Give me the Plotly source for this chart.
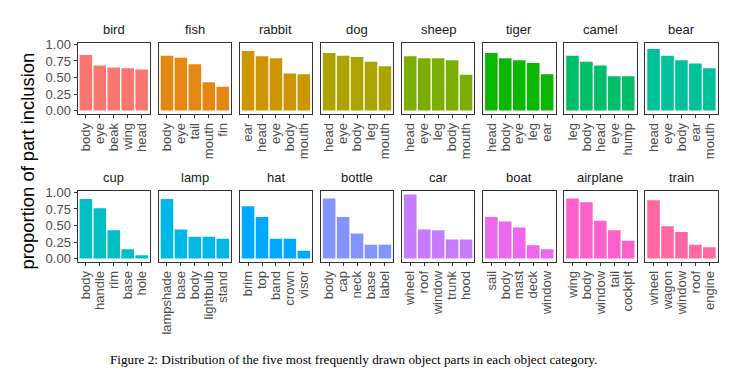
import plotly.graph_objects as go

categories = ["bird", "fish", "rabbit", "dog", "sheep", "tiger", "camel", "bear",
              "cup", "lamp", "hat", "bottle", "car", "boat", "airplane", "train"]

parts = {
    "bird": ["body", "eye", "beak", "wing", "head"],
    "fish": ["body", "eye", "tail", "mouth", "fin"],
    "rabbit": ["ear", "head", "eye", "body", "mouth"],
    "dog": ["head", "eye", "body", "leg", "mouth"],
    "sheep": ["head", "eye", "leg", "body", "mouth"],
    "tiger": ["head", "body", "eye", "leg", "ear"],
    "camel": ["leg", "body", "head", "eye", "hump"],
    "bear": ["head", "eye", "body", "ear", "mouth"],
    "cup": ["body", "handle", "rim", "base", "hole"],
    "lamp": ["lampshade", "base", "body", "lightbulb", "stand"],
    "hat": ["brim", "top", "band", "crown", "visor"],
    "bottle": ["body", "cap", "neck", "base", "label"],
    "car": ["wheel", "roof", "window", "trunk", "hood"],
    "boat": ["sail", "body", "mast", "deck", "window"],
    "airplane": ["wing", "body", "window", "tail", "cockpit"],
    "train": ["wheel", "wagon", "window", "roof", "engine"],
}

values = {
    "bird": [0.84, 0.68, 0.65, 0.64, 0.62],
    "fish": [0.83, 0.80, 0.70, 0.43, 0.36],
    "rabbit": [0.90, 0.82, 0.79, 0.56, 0.55],
    "dog": [0.87, 0.83, 0.81, 0.74, 0.67],
    "sheep": [0.82, 0.79, 0.79, 0.76, 0.54],
    "tiger": [0.87, 0.79, 0.76, 0.72, 0.55],
    "camel": [0.83, 0.74, 0.68, 0.52, 0.52],
    "bear": [0.93, 0.83, 0.76, 0.71, 0.64],
    "cup": [0.90, 0.76, 0.43, 0.14, 0.05],
    "lamp": [0.90, 0.44, 0.33, 0.33, 0.30],
    "hat": [0.79, 0.63, 0.30, 0.30, 0.12],
    "bottle": [0.91, 0.63, 0.38, 0.21, 0.21],
    "car": [0.97, 0.44, 0.43, 0.29, 0.29],
    "boat": [0.63, 0.56, 0.47, 0.20, 0.14],
    "airplane": [0.91, 0.85, 0.57, 0.43, 0.27],
    "train": [0.88, 0.49, 0.40, 0.21, 0.17],
}

colors = ["#F8766D", "#E68613", "#CD9600", "#ABA300", "#7CAE00", "#0CB702", "#00BE67", "#00C19A",
          "#00BFC4", "#00B8E7", "#00A9FF", "#8494FF", "#C77CFF", "#ED68ED", "#FF61CC", "#FF68A1"]

y_ticks = [0.0, 0.25, 0.5, 0.75, 1.0]
y_ticktext = ["0.00", "0.25", "0.50", "0.75", "1.00"]

W, H = 730, 379
FONT = "Liberation Sans"
panel_left = 69.5
panel_step = 81.1
panel_w = 72.5
row_tops = [30.0, 182.0]
panel_h = 72.5

fig = go.Figure()
layout = dict(
    width=W, height=H,
    margin=dict(l=0, r=0, t=0, b=0),
    paper_bgcolor="white", plot_bgcolor="white",
    showlegend=False, bargap=0.1,
    font=dict(family=FONT, color="#4d4d4d", size=12),
)
annotations = []

for i, cat in enumerate(categories):
    r, c = divmod(i, 8)
    n = i + 1
    xa = "x" if n == 1 else f"x{n}"
    ya = "y" if n == 1 else f"y{n}"
    fig.add_trace(go.Bar(
        x=parts[cat], y=values[cat], marker=dict(color=colors[i], line=dict(width=0)),
        xaxis=xa, yaxis=ya, hoverinfo="x+y",
    ))
    x0 = panel_left + c * panel_step
    x1 = x0 + panel_w
    y0 = row_tops[r]
    y1 = y0 + panel_h
    xkey = "xaxis" if n == 1 else f"xaxis{n}"
    ykey = "yaxis" if n == 1 else f"yaxis{n}"
    layout[xkey] = dict(
        domain=[x0 / W, x1 / W], anchor=ya,
        type="category", categoryorder="array", categoryarray=parts[cat],
        tickmode="array", tickvals=parts[cat], ticktext=parts[cat],
        range=[-0.6, 4.6], tickangle=-90,
        showline=True, linecolor="#333333", linewidth=1, mirror=True,
        ticks="outside", ticklen=3, tickcolor="#333333", tickwidth=1,
        tickfont=dict(family=FONT, size=13, color="#4d4d4d"),
        showgrid=False, zeroline=False, fixedrange=True,
    )
    layout[ykey] = dict(
        domain=[1 - y1 / H, 1 - y0 / H], anchor=xa,
        range=[-0.0485, 1.0185],
        showline=True, linecolor="#333333", linewidth=1, mirror=True,
        showgrid=False, zeroline=False, fixedrange=True,
        tickvals=y_ticks, ticktext=y_ticktext,
        ticks="outside" if c == 0 else "", ticklen=3, tickcolor="#333333", tickwidth=1,
        showticklabels=(c == 0),
        tickfont=dict(family=FONT, size=13, color="#4d4d4d"),
    )
    annotations.append(dict(
        text=cat, x=(x0 + x1) / 2 / W, y=1 - (y0 - 4) / H,
        xref="paper", yref="paper", xanchor="center", yanchor="bottom",
        showarrow=False, font=dict(family=FONT, size=13, color="#1a1a1a"),
    ))

annotations.append(dict(
    text="proportion of part inclusion", x=20 / W, y=1 - 151.5 / H,
    xref="paper", yref="paper", xanchor="center", yanchor="middle",
    textangle=-90, showarrow=False, font=dict(family=FONT, size=18.4, color="black"),
))
annotations.append(dict(
    text="Figure 2: Distribution of the five most frequently drawn object parts in each object category.",
    x=345.5 / W, y=1 - 355 / H, xref="paper", yref="paper", xanchor="center", yanchor="middle",
    showarrow=False, font=dict(family="Liberation Serif", size=13.2, color="black"),
))
layout["annotations"] = annotations
fig.update_layout(**layout)
fig.write_html("out.html")
